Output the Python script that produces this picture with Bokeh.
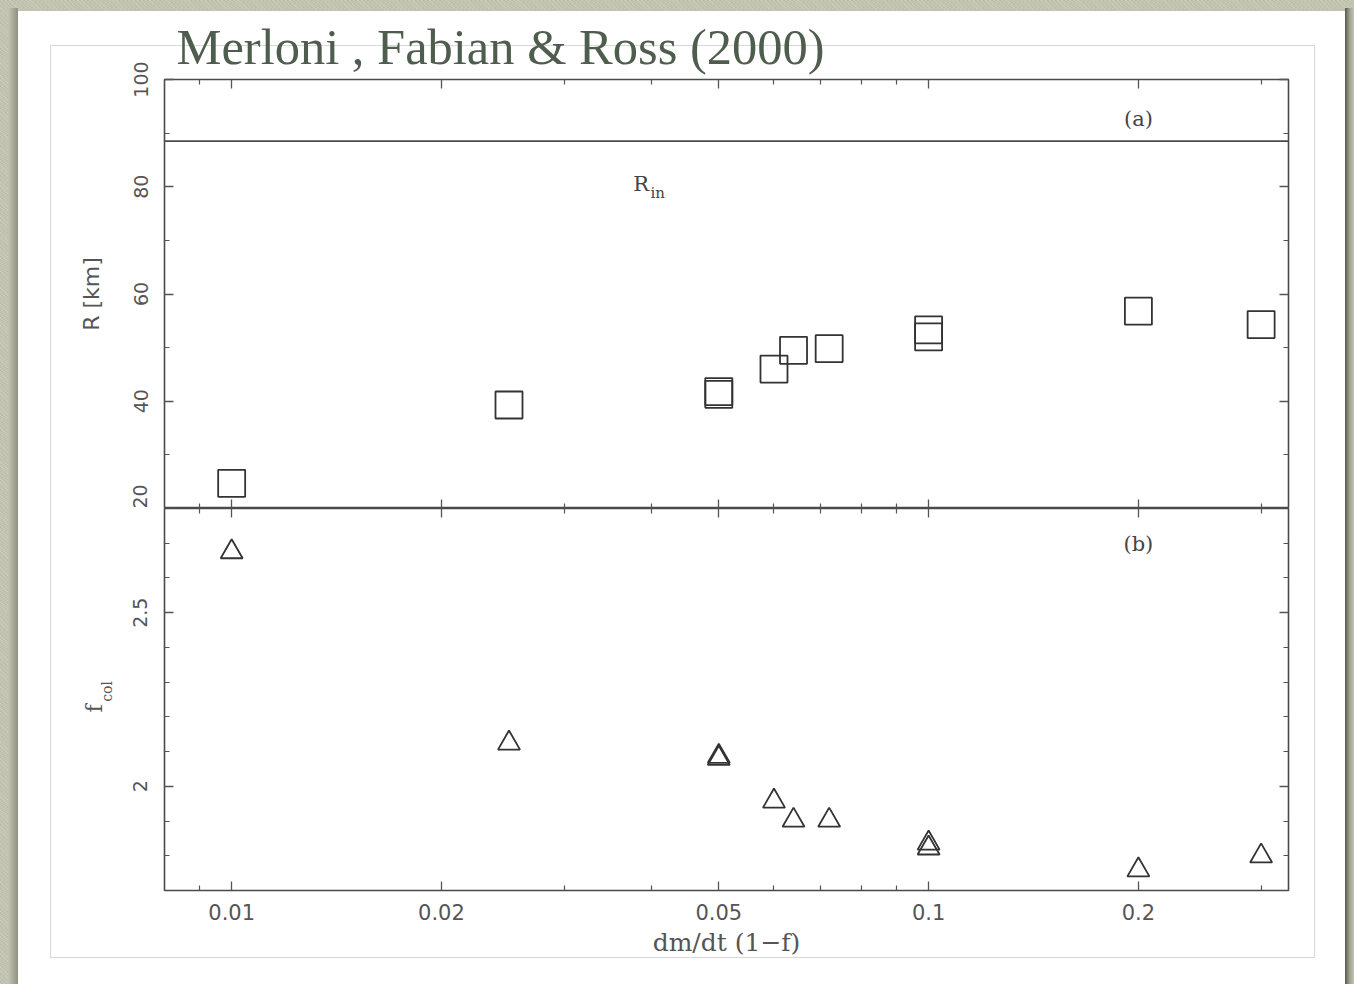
from bokeh.embed import file_html
from bokeh.layouts import column, row
from bokeh.models import (FixedTicker, Label, LinearAxis, LogAxis,
                          NumeralTickFormatter, Range1d, Span)
from bokeh.plotting import figure
from bokeh.resources import INLINE
import math

# accretion rate dm/dt (1-f) for each disc model
mdot = [0.01, 0.025, 0.05, 0.05, 0.06, 0.064, 0.072, 0.1, 0.1, 0.2, 0.3]
# fitted inner radius of the disc [km]
r_fit = [24.7, 39.3, 41.3, 41.8, 46.0, 49.5, 49.8, 53.3, 52.0, 56.8, 54.3]
# colour-correction factor
f_col = [2.675, 2.124, 2.080, 2.086, 1.957, 1.902, 1.902, 1.836, 1.822, 1.759, 1.799]
# true inner radius of the disc [km]
r_in_level = 88.5

x_major = [0.01, 0.02, 0.05, 0.1, 0.2]
x_minor = [0.009, 0.03, 0.04, 0.06, 0.07, 0.08, 0.09, 0.3]
r_major = [20, 40, 60, 80, 100]
r_minor = [30, 50, 70, 90]
f_major = [2.0, 2.5]
f_minor = [1.8, 1.9, 2.1, 2.2, 2.3, 2.4, 2.6, 2.7]

W = 1354
H_TOP, H_BOT = 508, 476
STRIP_W = 120
INK = "#333333"
GREY = "#555555"

x_range = Range1d(0.00801, 0.3284)


def make_panel(width, height, y_range, left, top, bottom):
    p = figure(width=width, height=height, x_axis_type="log", x_range=x_range,
               y_range=y_range, output_backend="svg", toolbar_location=None,
               min_border_left=left, min_border_right=66,
               min_border_top=top, min_border_bottom=bottom,
               border_fill_color=None, background_fill_color=None,
               outline_line_color="#4a4a4a", outline_line_width=1.6)
    p.grid.visible = False
    p.add_layout(LogAxis(), "above")
    p.add_layout(LinearAxis(), "right")
    return p


def style_axis(ax, major, minor, labels):
    ax.ticker = FixedTicker(ticks=major, minor_ticks=minor)
    ax.major_tick_in = 9
    ax.major_tick_out = 0
    ax.minor_tick_in = 5
    ax.minor_tick_out = 0
    ax.major_tick_line_color = GREY
    ax.minor_tick_line_color = GREY
    ax.major_tick_line_width = 1.3
    ax.minor_tick_line_width = 1.2
    ax.axis_line_color = None
    ax.major_label_text_font = "DejaVu Sans"
    ax.axis_label_text_font_style = "normal"
    ax.axis_label_text_color = GREY
    if labels:
        ax.major_label_text_color = GREY
    else:
        # tick marks only on this side
        ax.major_label_text_color = None
        ax.major_label_text_font_size = "0px"
        ax.major_label_standoff = 0


# ---- panel (a): inner radius -------------------------------------------
pa = make_panel(W, H_TOP, Range1d(20, 100), 164, 79, 0)
style_axis(pa.below[0], x_major, x_minor, False)
style_axis(pa.above[0], x_major, x_minor, False)
style_axis(pa.right[0], r_major, r_minor, False)
ya = pa.left[0]
style_axis(ya, r_major, r_minor, True)
ya.major_label_orientation = "vertical"
ya.major_label_text_font_size = "19px"
ya.major_label_standoff = 17
ya.axis_label = "R [km]"
ya.axis_label_text_font = "DejaVu Sans"
ya.axis_label_text_font_size = "22px"
ya.axis_label_standoff = 27

pa.title.text = "Merloni , Fabian & Ross (2000)"
pa.title.align = "left"
pa.title.offset = 12
pa.title.standoff = 9
pa.title.text_font = "Liberation Serif"
pa.title.text_font_size = "50.5px"
pa.title.text_font_style = "normal"
pa.title.text_color = "#4f5d4e"

pa.scatter(mdot, r_fit, marker="square", size=27, fill_color=None,
           line_color=INK, line_width=1.8)
pa.add_layout(Span(location=r_in_level, dimension="width",
                   line_color="#4a4a4a", line_width=1.6))

pa.add_layout(Label(x=0.2, y=92.7, text="(a)", text_font="DejaVu Serif",
                    text_font_size="21px", text_color="#444444",
                    text_align="center", text_baseline="middle"))
pa.add_layout(Label(x=0.0377, y=80.6, text="R", text_font="DejaVu Serif",
                    text_font_size="21px", text_color="#444444",
                    text_baseline="alphabetic"))
pa.add_layout(Label(x=0.0399, y=78.8, text="in", text_font="DejaVu Serif",
                    text_font_size="15px", text_color="#444444",
                    text_baseline="alphabetic"))

# ---- panel (b): colour-correction factor ---------------------------------
pb = make_panel(W - STRIP_W, H_BOT, Range1d(1.7, 2.8), 164 - STRIP_W, 0, 94)
style_axis(pb.above[0], x_major, x_minor, False)
style_axis(pb.right[0], f_major, f_minor, False)
xb = pb.below[0]
style_axis(xb, x_major, x_minor, True)
xb.formatter = NumeralTickFormatter(format="0.[00]")
xb.major_label_text_font_size = "21px"
xb.major_label_standoff = 13
xb.axis_label = "dm/dt (1\u2212f)"
xb.axis_label_text_font = "DejaVu Serif"
xb.axis_label_text_font_size = "25px"
xb.axis_label_standoff = 5
yb = pb.left[0]
style_axis(yb, f_major, f_minor, True)
yb.formatter = NumeralTickFormatter(format="0.[0]")
yb.major_label_orientation = "vertical"
yb.major_label_text_font_size = "19px"
yb.major_label_standoff = 17

pb.scatter(mdot, f_col, marker="triangle", size=22, fill_color=None,
           line_color=INK, line_width=1.8)

pb.add_layout(Label(x=0.2, y=2.698, text="(b)", text_font="DejaVu Serif",
                    text_font_size="21px", text_color="#444444",
                    text_align="center", text_baseline="middle"))

# strip left of panel (b) carrying the subscripted axis title f_col
strip = figure(width=STRIP_W, height=H_BOT, x_range=Range1d(0, STRIP_W),
               y_range=Range1d(0, H_BOT), x_axis_location=None,
               y_axis_location=None, output_backend="svg",
               toolbar_location=None, min_border=0,
               border_fill_color=None, background_fill_color=None,
               outline_line_color=None)
strip.grid.visible = False
strip.add_layout(Label(x=94, y=227, angle=math.pi / 2, text="f",
                       text_font="DejaVu Serif", text_font_size="22px",
                       text_color=GREY, text_align="center",
                       text_baseline="middle"))
strip.add_layout(Label(x=106, y=248, angle=math.pi / 2, text="col",
                       text_font="DejaVu Serif", text_font_size="14px",
                       text_color=GREY, text_align="center",
                       text_baseline="middle"))

# ---- slide backdrop: textured margin, white card, thin picture frame -----
line = "linear-gradient(#d8d8d8,#d8d8d8)"
layers = [
    (line, "50px 45px", "1265px 1px"),
    (line, "50px 957px", "1265px 1px"),
    (line, "50px 45px", "1px 913px"),
    (line, "1314px 45px", "1px 913px"),
    ("linear-gradient(#ffffff,#ffffff)", "18px 11px", "1327px 973px"),
    ("linear-gradient(to right,#55574d,#9fa18f,#c4c6b3)", "1345px 8px", "9px 976px"),
    ("linear-gradient(to right,#c4c6b3,#8d8f81)", "8px 8px", "10px 976px"),
    ("repeating-linear-gradient(45deg,rgba(255,255,255,0.10) 0 1px,transparent 1px 3px)",
     "0 0", "100% 100%"),
    ("repeating-linear-gradient(-30deg,rgba(0,0,0,0.04) 0 1px,transparent 1px 2px)",
     "0 0", "100% 100%"),
]
backdrop = {
    "background-color": "#c4c6b3",
    "background-image": ", ".join(l[0] for l in layers),
    "background-position": ", ".join(l[1] for l in layers),
    "background-size": ", ".join(l[2] for l in layers),
    "background-repeat": "no-repeat",
}

page = column(pa, row(strip, pb, spacing=0), spacing=0, styles=backdrop)

with open("out.html", "w") as f:
    f.write(file_html(page, INLINE))
